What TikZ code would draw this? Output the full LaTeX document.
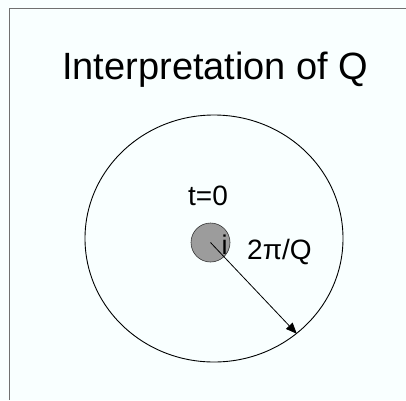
\documentclass[tikz,border=0pt]{standalone}
\usepackage{fontspec}
\setmainfont{Liberation Sans}
\usetikzlibrary{shapes.geometric, arrows.meta, positioning}
\definecolor{paper}{HTML}{F9FFFF}
\definecolor{frame}{HTML}{707070}
\definecolor{dotgray}{HTML}{9C9C9C}

\begin{document}
\begin{tikzpicture}[x=1pt, y=-1pt,
    orbit/.style={ellipse, draw=black, line width=0.9pt, minimum width=258, minimum height=247, inner sep=0},
    site/.style={circle, draw=black!80, fill=dotgray, line width=0.6pt, minimum size=39, inner sep=0},
    lbl/.style={anchor=base west, inner sep=0, font=\fontsize{28}{30}\selectfont},
]
    % Background and slide frame
    \fill[paper] (0,0) rectangle (406,400);
    \useasboundingbox (0,0) rectangle (406,400);
    \draw[frame, line width=1pt] (9,400) -- (9,8) -- (406,8);
    % Title
    \node[anchor=base west, inner sep=0, font=\fontsize{38}{40}\selectfont] (title) at (62,79) {Interpretation of Q};
    % Circles
    \node[orbit] (ring) at (214,238.5) {};
    \node[site] (dot) at (210.5,242.5) {};
    % Labels
    \node[lbl, font=\fontsize{27}{29}\selectfont] (i) at (221.5,254) {i};
    \node[lbl] (t0) at (188,205) {t=0};
    \node[lbl] (radius) at (247,259) {2π/Q};
    % Radius arrow
    \draw[-{Triangle[length=11pt, width=9pt]}, line width=0.8pt] (dot.center) -- (ring.-49);
\end{tikzpicture}
\end{document}
